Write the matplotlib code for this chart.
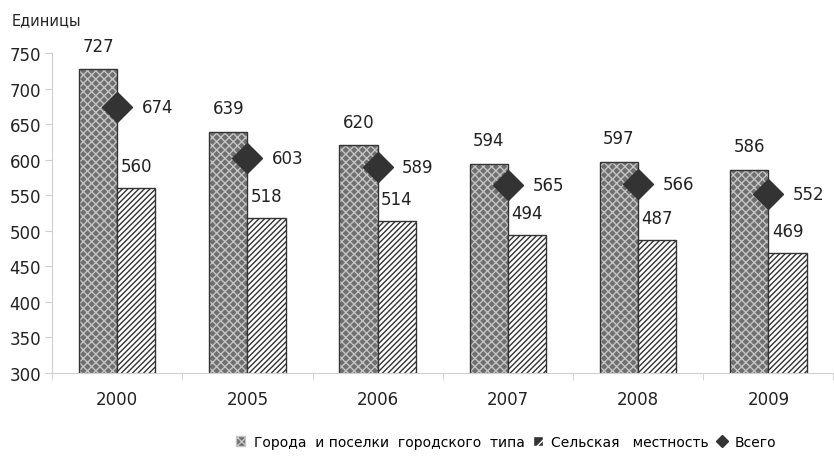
import matplotlib.pyplot as plt
import matplotlib.patches as mpatches
from matplotlib.lines import Line2D
import numpy as np

plt.rcParams['font.family'] = ['DejaVu Sans']
plt.rcParams['hatch.linewidth'] = 1.0

# Данные
years = ['2000', '2005', '2006', '2007', '2008', '2009']
goroda = [727, 639, 620, 594, 597, 586]
selo = [560, 518, 514, 494, 487, 469]
vsego = [674, 603, 589, 565, 566, 552]

fig = plt.figure(figsize=(8.34, 4.64), dpi=100)
ax = fig.add_axes([0.0624, 0.194, 0.937, 0.6896])

x = np.arange(len(years))
w = 0.294
grey = '#cfcfcf'

# Города: тёмный фон с светлой сеткой, затем контур
ax.bar(x - w / 2, goroda, w, color='#6f6f6f', edgecolor='#c4c4c4',
       hatch='xxxx', linewidth=0, zorder=2)
ax.bar(x - w / 2, goroda, w, fill=False, edgecolor='#333333', linewidth=1.0, zorder=2)
ax.bar(x + w / 2, selo, w, color='white', edgecolor='#333333',
       hatch='//////', linewidth=1.0, zorder=2)
ax.plot(x, vsego, linestyle='none', marker='D', markersize=15, color='#333333', zorder=3)

# Подписи значений
for xi, v in zip(x, goroda):
    ax.annotate(str(v), (xi - w / 2, v), xytext=(0, 17), textcoords='offset points',
                ha='center', va='center', fontsize=12, color='#222222')
for xi, v in zip(x, selo):
    ax.annotate(str(v), (xi + w / 2, v), xytext=(0, 16), textcoords='offset points',
                ha='center', va='center', fontsize=12, color='#222222')
for xi, v in zip(x, vsego):
    ax.annotate(str(v), (xi, v), xytext=(29, 0), textcoords='offset points',
                ha='center', va='center', fontsize=12, color='#222222')

ax.set_ylim(300, 750)
ax.set_xlim(-0.5, len(years) - 0.5)
ax.set_yticks(range(300, 751, 50))
ax.set_xticks(x)
ax.set_xticklabels(years)
ax.set_xticks(np.arange(-0.5, len(years), 1), minor=True)
ax.tick_params(axis='x', which='major', length=0, pad=12, labelsize=12, colors='#222222')
ax.tick_params(axis='x', which='minor', length=5, color=grey)
ax.tick_params(axis='y', length=5, color=grey, labelsize=12, labelcolor='#222222', pad=3)

for s in ['top', 'right']:
    ax.spines[s].set_visible(False)
ax.spines['left'].set_color(grey)
ax.spines['bottom'].set_color(grey)

fig.text(0.014, 0.955, 'Единицы', fontsize=10.5, ha='left', va='center', color='#222222')

h1 = mpatches.Patch(facecolor='#6f6f6f', edgecolor='#c4c4c4', hatch='xxxx')
h2 = mpatches.Patch(facecolor='#333333', edgecolor='white', hatch='//')
h3 = Line2D([], [], linestyle='none', marker='D', markersize=6, color='#333333')
fig.legend([h1, h2, h3],
           ['Города  и поселки  городского  типа', 'Сельская   местность', 'Всего'],
           loc='center', bbox_to_anchor=(0.607, 0.045), ncol=3, frameon=False,
           fontsize=10, handlelength=0.7, handleheight=0.7, handletextpad=0.6,
           columnspacing=0.6)

fig.savefig('out.png', dpi=100)
